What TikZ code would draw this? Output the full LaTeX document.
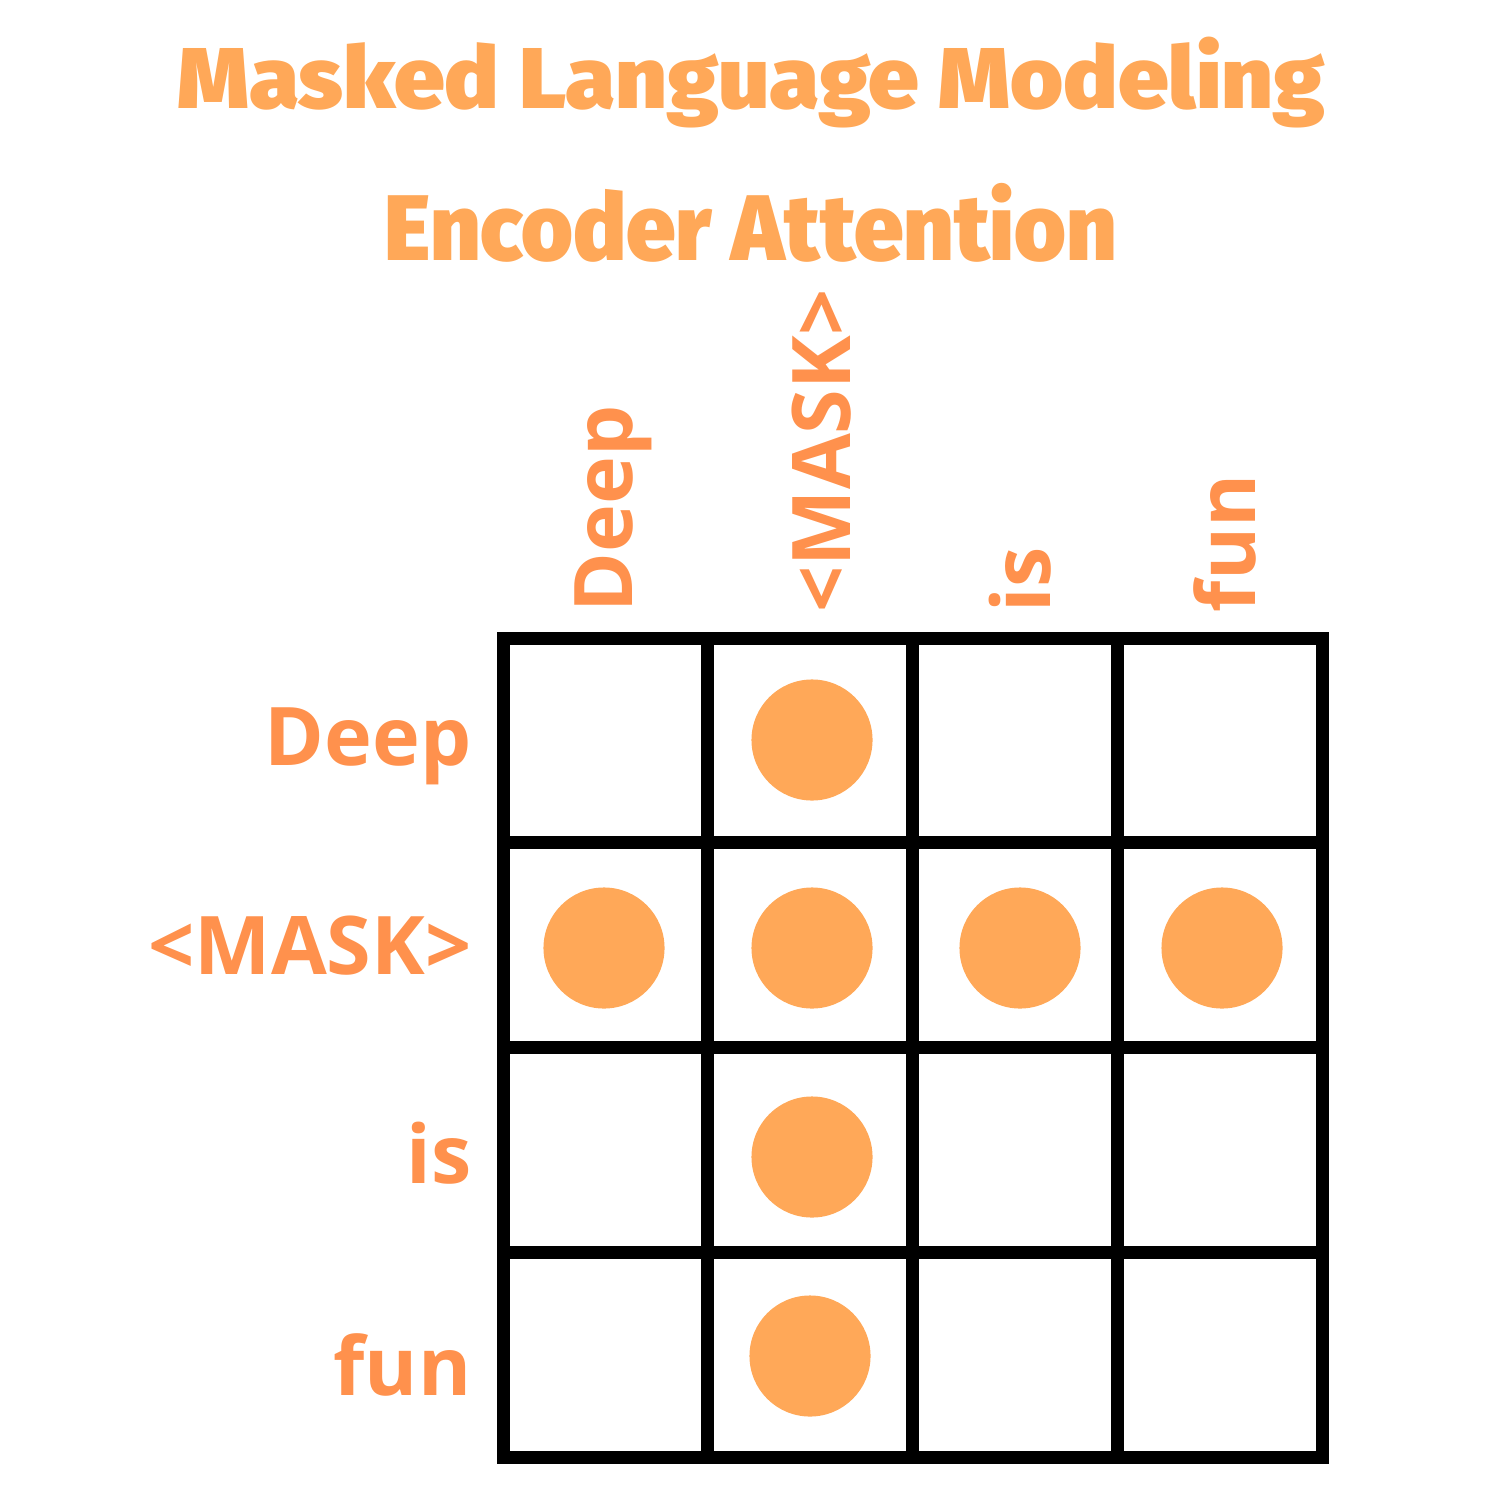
\documentclass[tikz,border=0pt]{standalone}
\usepackage{fontspec}
\usepackage{graphicx}
\newfontfamily\titlefont{Fira Sans}[UprightFont=* Black]
\newfontfamily\labelfont{Open Sans}[UprightFont=* Bold]
\definecolor{arancio}{HTML}{FFA858}
\definecolor{arancioscuro}{HTML}{FF914D}

\begin{document}
\begin{tikzpicture}[x=0.01cm, y=-0.01cm,
    titolo/.style = {inner sep=0pt, text=arancio, anchor=north},
    etichetta/.style = {inner sep=0pt, text=arancioscuro, font=\labelfont\fontsize{23}{23}\selectfont},
    griglia/.style = {line width=0.13cm, draw=black},
    pallino/.style = {fill=arancio}]
    \useasboundingbox (0,0) rectangle (1500,1500);
    % Parametri (griglia)
    \pgfmathsetmacro{\xmin}{503}
    \pgfmathsetmacro{\ymin}{638}
    \pgfmathsetmacro{\lato}{204.75}
    % Titolo
    \node[titolo] (riga1titolo) at (751.5,36) {\resizebox*{11.47cm}{0.91cm}{\titlefont Masked Language Modeling}};
    \node[titolo] (riga2titolo) at (751,183) {\resizebox*{7.32cm}{0.79cm}{\titlefont Encoder Attention}};
    % Griglia
    \draw[griglia] (\xmin,\ymin) rectangle ({\xmin+4*\lato},{\ymin+4*\lato});
    \foreach \i in {1,2,3} {
        \draw[griglia] ({\xmin+\i*\lato},\ymin) -- ({\xmin+\i*\lato},{\ymin+4*\lato});
        \draw[griglia] (\xmin,{\ymin+\i*\lato}) -- ({\xmin+4*\lato},{\ymin+\i*\lato});
    }
    % Etichette
    \foreach \testo/\y [count=\i] in {Deep/765,<MASK>/974,is/1183,fun/1395}
        \node[etichetta, anchor=base east] (riga\i) at (472,\y) {\testo};
    \foreach \testo/\x [count=\i] in {Deep/632,<MASK>/850,is/1050,fun/1255}
        \node[etichetta, rotate=90, anchor=base west] (colonna\i) at (\x,613) {\testo};
    % Pallini
    \foreach \x/\y in {812/740,604/948,812/948,1020/948,1222/948,812/1157,810/1356}
        \fill[pallino] (\x,\y) circle (0.605cm);
\end{tikzpicture}
\end{document}
